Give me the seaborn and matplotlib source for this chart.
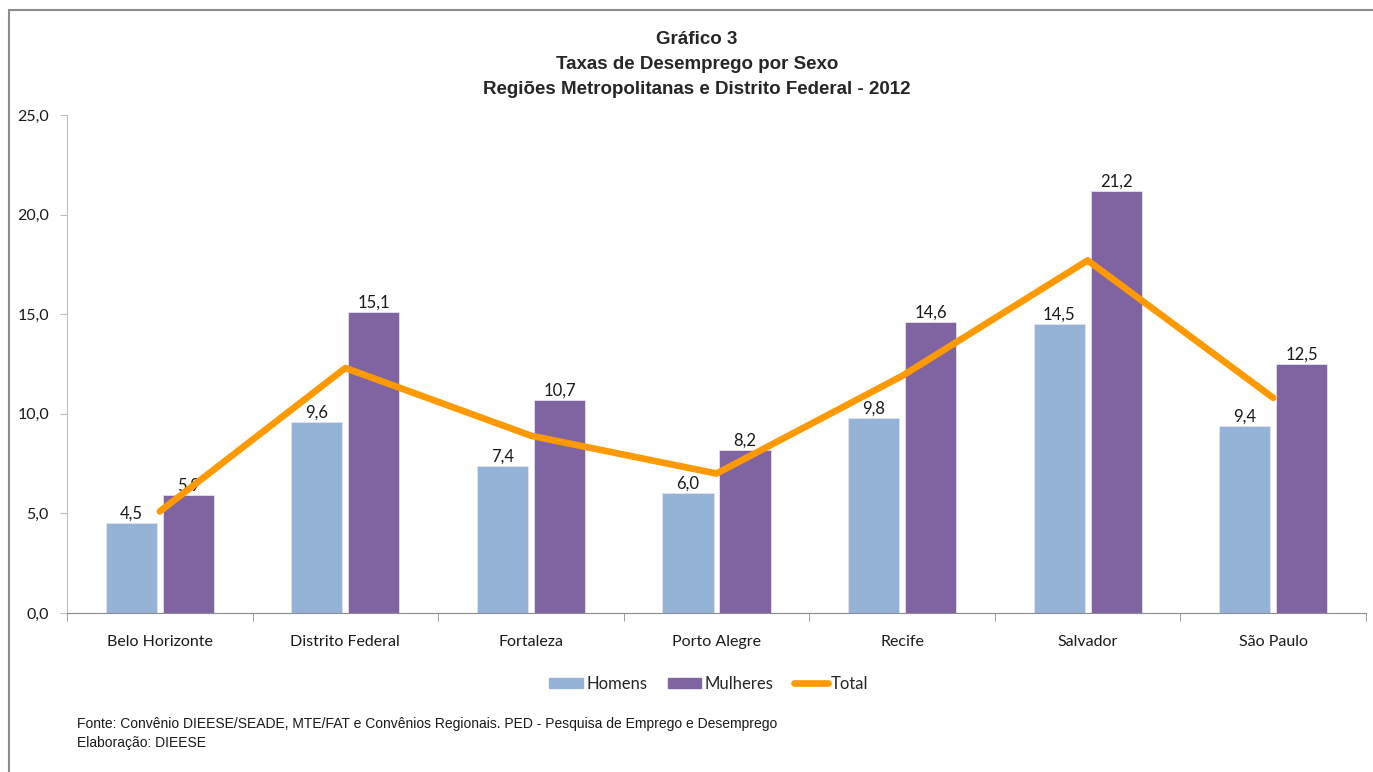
import numpy as np
import pandas as pd
import matplotlib
matplotlib.use('Agg')
import matplotlib.pyplot as plt
from matplotlib.ticker import FuncFormatter, FixedLocator
from matplotlib.patches import Rectangle
from matplotlib.lines import Line2D
import seaborn as sns

sns.set_style('white')
plt.rcParams['font.family'] = ['Lato', 'DejaVu Sans']

regioes = ['Belo Horizonte', 'Distrito Federal', 'Fortaleza', 'Porto Alegre',
           'Recife', 'Salvador', 'São Paulo']
homens = [4.5, 9.6, 7.4, 6.0, 9.8, 14.5, 9.4]
mulheres = [5.9, 15.1, 10.7, 8.2, 14.6, 21.2, 12.5]
total = [5.1, 12.3, 8.9, 7.0, 11.9, 17.7, 10.8]

cor_h = '#95B3D7'
cor_m = '#8064A2'
cor_t = '#FF9900'

df = pd.DataFrame({'Regiao': regioes, 'Homens': homens, 'Mulheres': mulheres})
df = pd.melt(df, id_vars='Regiao', value_vars=['Homens', 'Mulheres'],
             var_name='Sexo', value_name='Taxa')

fig = plt.figure(figsize=(13.73, 7.72), dpi=100)
ax = fig.add_axes([67/1373, 1-613/772, (1366-67)/1373, (613-115)/772])

sns.barplot(data=df, x='Regiao', y='Taxa', hue='Sexo', order=regioes,
            palette=[cor_h, cor_m], saturation=1, width=0.615, gap=0.105,
            ax=ax, legend=False, edgecolor='#E6E0EE', linewidth=0.6)

for cont in ax.containers:
    labs = [f'{b.get_height():.1f}'.replace('.', ',') for b in cont]
    ax.bar_label(cont, labels=labs, padding=1, fontsize=12, color='#1a1a1a')

sns.lineplot(x=np.arange(len(regioes)), y=total, color=cor_t, linewidth=4.8,
             ax=ax, solid_capstyle='round', zorder=5)

ax.set_ylim(0, 25)
ax.set_xlim(-0.5, len(regioes) - 0.5)
ax.yaxis.set_major_locator(FixedLocator([0, 5, 10, 15, 20, 25]))
ax.yaxis.set_major_formatter(FuncFormatter(lambda v, p: f'{v:.1f}'.replace('.', ',')))
ax.set_xlabel('')
ax.set_ylabel('')

for s in ['top', 'right']:
    ax.spines[s].set_visible(False)
ax.spines['left'].set_color('#BFBFBF')
ax.spines['bottom'].set_color('#8C8C8C')
ax.tick_params(axis='y', which='major', left=True, length=5, color='#BFBFBF',
               labelsize=11.5, pad=8, labelcolor='#1a1a1a')
ax.tick_params(axis='x', which='major', bottom=False, labelsize=11.5, pad=12,
               labelcolor='#1a1a1a')
ax.set_xticks(np.arange(-0.5, len(regioes)), minor=True)
ax.tick_params(axis='x', which='minor', bottom=True, length=6, color='#8C8C8C')

handles = [Rectangle((0, 0), 1, 1, facecolor=cor_h, edgecolor=cor_h),
           Rectangle((0, 0), 1, 1, facecolor=cor_m, edgecolor=cor_m),
           Line2D([0], [0], color=cor_t, linewidth=4.8, solid_capstyle='round')]
fig.legend(handles, ['Homens', 'Mulheres', 'Total'], loc='center',
           bbox_to_anchor=(709/1373, 1-684/772), ncol=3, frameon=False,
           fontsize=12, handlelength=2.0, handleheight=0.6, handletextpad=0.2,
           columnspacing=1.25)

tit = ['Gráfico 3', 'Taxas de Desemprego por Sexo',
       'Regiões Metropolitanas e Distrito Federal - 2012']
for i, t in enumerate(tit):
    fig.text(697/1373, 1-(40 + i*24.5)/772, t, ha='center', va='center',
             fontsize=13.5, fontweight='bold',
             family=['Liberation Sans Narrow', 'Liberation Sans'])

fonte = ['Fonte: Convênio DIEESE/SEADE, MTE/FAT e Convênios Regionais. PED - Pesquisa de Emprego e Desemprego',
         'Elaboração: DIEESE']
for i, t in enumerate(fonte):
    fig.text(77/1373, 1-(724 + i*19)/772, t, ha='left', va='center',
             fontsize=10, color='#1a1a1a',
             family=['Liberation Sans Narrow', 'Liberation Sans'])

fig.patches.append(Rectangle((9/1373, -0.1), 1.2, 1 - 10/772 + 0.1,
                             transform=fig.transFigure, fill=False,
                             edgecolor='#8C8C8C', linewidth=1.5))

fig.savefig('out.png', dpi=100)
